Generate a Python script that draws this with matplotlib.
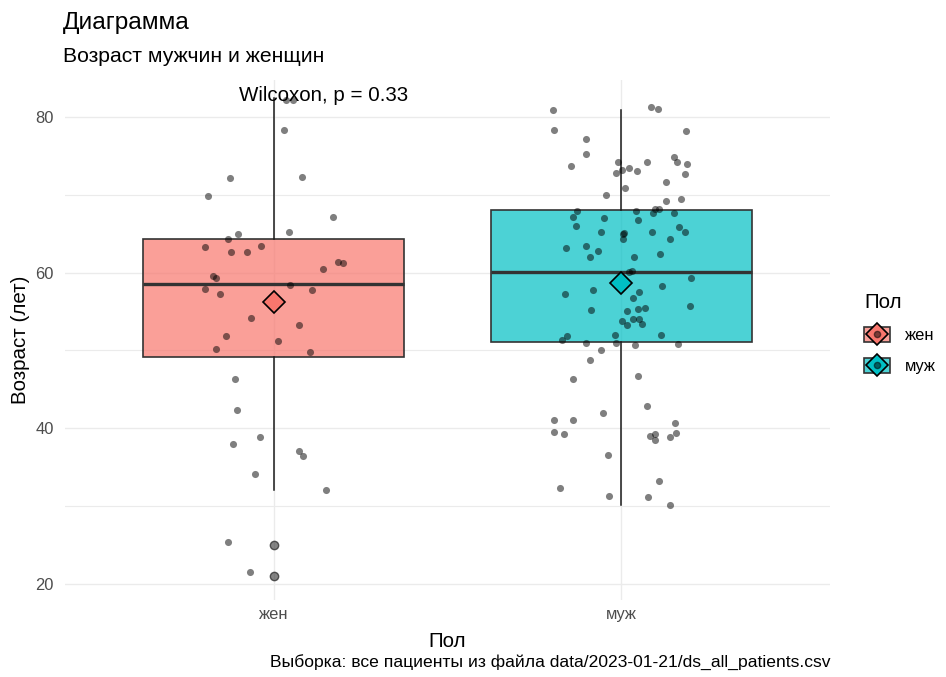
import numpy as np
import matplotlib
matplotlib.use('Agg')
import matplotlib.pyplot as plt
from matplotlib.patches import Patch
from matplotlib.lines import Line2D
from matplotlib.legend_handler import HandlerTuple

plt.rcParams['font.family'] = ['Liberation Sans', 'DejaVu Sans']

'''Data read from the picture'''
groups = ['жен', 'муж']
colors = ['#F8766D', '#00BFC4']

# jittered points: age and horizontal jitter (in category units)
jen_age = [82.2, 82.2, 78.3, 72.1, 72.3, 69.85, 67.1, 65.0, 65.2, 64.3,
           63.3, 63.4, 62.7, 62.7, 61.3, 61.2, 60.4, 59.5, 59.3, 58.45,
           57.9, 57.8, 57.2, 54.1, 53.3, 51.8, 51.2, 50.2, 49.8, 46.3,
           42.3, 38.85, 37.95, 37.05, 36.4, 34.05, 32.05, 25.3, 21.45]
jen_dx = [0.036, 0.055, 0.030, -0.126, 0.083, -0.189, 0.171, -0.102, 0.045, -0.132,
          -0.198, -0.037, -0.122, -0.078, 0.185, 0.200, 0.141, -0.174, -0.165, 0.046,
          -0.197, 0.110, -0.153, -0.065, 0.072, -0.137, 0.013, -0.166, 0.104, -0.112,
          -0.104, -0.038, -0.118, 0.074, 0.085, -0.055, 0.150, -0.130, -0.068]

muz_age = [80.9, 81.25, 81.0, 78.3, 78.2, 77.2, 75.3, 74.9, 74.2, 73.95,
           73.7, 74.2, 74.2, 73.2, 73.4, 73.1, 72.85, 72.7, 71.65, 70.85,
           70.0, 69.2, 69.4, 67.95, 67.2, 66.95, 67.9, 66.8, 67.7, 68.2,
           68.15, 67.6, 66.0, 65.85, 65.2, 65.2, 65.2, 65.05, 64.9, 64.3,
           64.25, 63.1, 63.35, 62.75, 62.0, 62.4, 61.95, 60.1, 60.25, 59.3,
           58.25, 57.8, 57.3, 57.5, 56.7, 55.7, 55.2, 55.3, 55.45, 55.05,
           53.8, 54.0, 54.0, 53.25, 53.4, 51.8, 51.35, 52.0, 52.0, 51.0,
           51.0, 50.7, 50.8, 50.1, 48.8, 46.3, 46.75, 42.9, 41.9, 41.0,
           41.1, 40.7, 39.5, 39.2, 39.0, 39.3, 38.45, 38.9, 39.4, 36.5,
           33.15, 32.25, 31.3, 31.15, 30.1]
muz_dx = [-0.198, 0.085, 0.106, -0.195, 0.187, -0.103, -0.103, 0.150, 0.160, 0.188,
          -0.145, -0.009, 0.075, 0.001, 0.021, 0.046, -0.015, 0.183, 0.128, 0.011,
          -0.043, 0.128, 0.171, -0.128, -0.138, -0.051, 0.043, 0.048, 0.092, 0.107,
          0.097, 0.150, -0.131, 0.166, 0.183, -0.058, 0.089, 0.009, 0.006, 0.004,
          0.140, -0.158, -0.102, -0.067, -0.091, 0.112, 0.036, 0.021, 0.032, 0.199,
          0.118, -0.083, -0.162, 0.050, 0.034, 0.197, -0.088, 0.049, 0.068, 0.017,
          0.002, 0.034, 0.052, 0.015, 0.060, -0.156, -0.171, -0.019, 0.113, -0.103,
          -0.015, 0.040, 0.163, -0.059, -0.091, -0.140, 0.049, 0.074, -0.054, -0.193,
          -0.138, 0.153, -0.193, -0.166, 0.082, 0.098, 0.097, 0.140, 0.158, -0.039,
          0.109, -0.177, -0.036, 0.078, 0.141]

# box statistics
q1 = [49.1, 51.05]
med = [58.5, 60.05]
q3 = [64.3, 68.0]
whislo = [32.0, 30.15]
whishi = [82.4, 80.95]
means = [56.15, 58.6]
fliers = [[25.0, 21.0], []]

p_label = 'Wilcoxon, p = 0.33'

'''Figure'''
W, H = 946, 677
fig = plt.figure(figsize=(W / 100, H / 100), dpi=100)
ax = fig.add_axes([65 / W, 1 - 600 / H, (830 - 65) / W, (600 - 80) / H])

stats = []
for i in range(2):
    stats.append(dict(med=med[i], q1=q1[i], q3=q3[i], whislo=whislo[i],
                      whishi=whishi[i], fliers=fliers[i]))

bp = ax.bxp(stats, positions=[0, 1], widths=0.75, patch_artist=True,
            showcaps=False, showfliers=True, manage_ticks=False,
            boxprops=dict(edgecolor='#333333', linewidth=1.2),
            medianprops=dict(color='#333333', linewidth=2.4),
            whiskerprops=dict(color='#1a1a1a', linewidth=1.1),
            flierprops=dict(marker='o', markersize=6, markerfacecolor=(0.2, 0.2, 0.2, 0.6),
                            markeredgecolor=(0.2, 0.2, 0.2, 0.8), linestyle='none'),
            zorder=2)
for patch, c in zip(bp['boxes'], colors):
    rgb = matplotlib.colors.to_rgb(c)
    patch.set_facecolor((*rgb, 0.7))

# jitter points
ax.scatter(np.array(jen_dx) + 0, jen_age, s=26, color='black', alpha=0.5, lw=0, zorder=3)
ax.scatter(np.array(muz_dx) + 1, muz_age, s=26, color='black', alpha=0.5, lw=0, zorder=3)

# means
for i in range(2):
    ax.plot([i], [means[i]], marker='D', ms=11.5, mfc=colors[i], mec='black', mew=1.2,
            ls='none', zorder=4)

ax.text(0.143, 82.0, p_label, ha='center', va='baseline', fontsize=14.8, zorder=5)

ax.set_xlim(-0.6, 1.6)
ax.set_ylim(17.9, 84.75)
ax.set_yticks([20, 40, 60, 80])
ax.set_yticks([30, 50, 70], minor=True)
ax.set_xticks([0, 1])
ax.set_xticklabels(groups)
ax.grid(True, which='major', color='#EBEBEB', lw=1.0, zorder=0)
ax.grid(True, which='minor', axis='y', color='#EBEBEB', lw=0.8, zorder=0)
for s in ax.spines.values():
    s.set_visible(False)
ax.tick_params(which='both', length=0)
ax.tick_params(axis='y', labelsize=11.9, labelcolor='#4D4D4D', pad=8)
ax.tick_params(axis='x', labelsize=11.9, labelcolor='#4D4D4D', pad=5)
ax.set_axisbelow(True)

'''Labels'''
fig.text(63 / W, 1 - 29 / H, 'Диаграмма', fontsize=17.6, ha='left', va='baseline')
fig.text(63 / W, 1 - 62 / H, 'Возраст мужчин и женщин', fontsize=15.2, ha='left', va='baseline')
fig.text(20 / W, 1 - 340 / H, 'Возраст (лет)', fontsize=14.8, rotation=90, ha='center', va='center')
fig.text(447.5 / W, 1 - 647 / H, 'Пол', fontsize=14.8, ha='center', va='baseline')
fig.text(830 / W, 1 - 667 / H, 'Выборка: все пациенты из файла data/2023-01-21/ds_all_patients.csv',
         fontsize=12.6, ha='right', va='baseline')

'''Legend'''
handles = []
for c in colors:
    rgb = matplotlib.colors.to_rgb(c)
    box = Patch(facecolor=(*rgb, 0.7), edgecolor='#333333', linewidth=1.2)
    dia = Line2D([], [], marker='D', ms=11.5, mfc=c, mec='black', mew=1.2, ls='none')
    dot = Line2D([], [], marker='o', ms=4.5, color='black', alpha=0.5, ls='none')
    handles.append((box, dia, dot))
leg = fig.legend(handles, groups, title='Пол', loc='upper left',
                 bbox_to_anchor=(864 / W, 1 - 293 / H), frameon=False,
                 handler_map={tuple: HandlerTuple(ndivide=1)},
                 handlelength=1.6, handleheight=1.05, handletextpad=0.9,
                 fontsize=11.9, title_fontsize=14.8, alignment='left', labelspacing=0.9,
                 borderaxespad=0, borderpad=0)

fig.savefig('out.png', dpi=100)
